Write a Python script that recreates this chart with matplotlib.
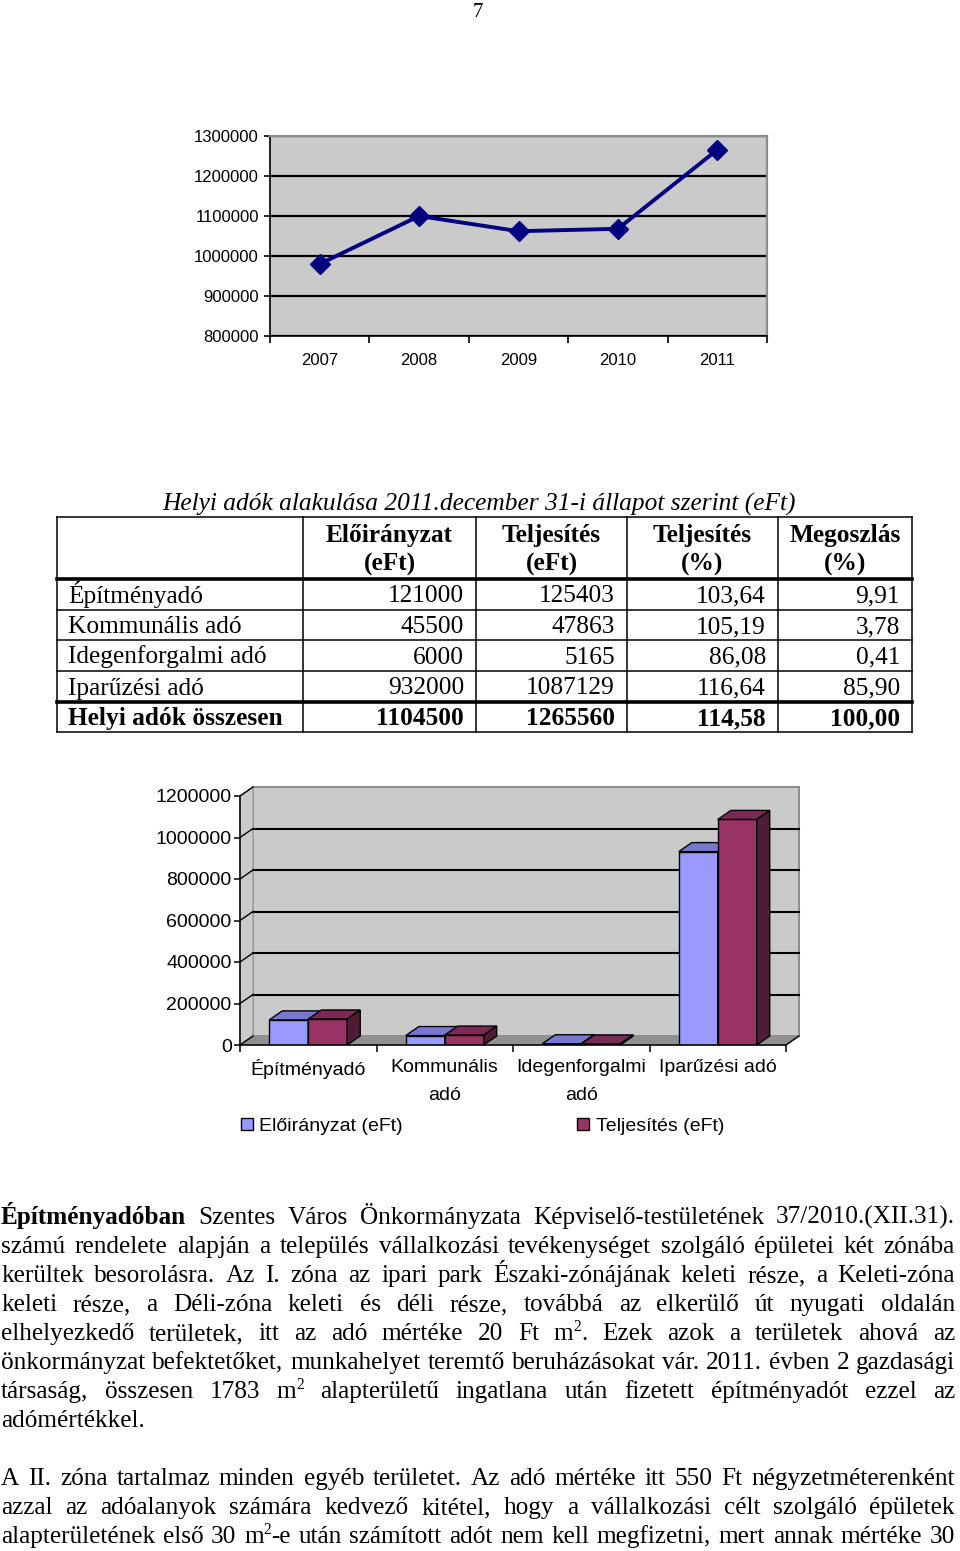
import re
import matplotlib
matplotlib.use('Agg')
import matplotlib.pyplot as plt
from matplotlib.patches import Polygon

# ---------------- data ----------------
years = ['2007', '2008', '2009', '2010', '2011']
line_values = [980000, 1100000, 1062000, 1068000, 1265560]
line_yticks = [800000, 900000, 1000000, 1100000, 1200000, 1300000]

table_title = 'Helyi adók alakulása 2011.december 31-i állapot szerint (eFt)'
table_headers = [('Előirányzat', '(eFt)'), ('Teljesítés', '(eFt)'),
                 ('Teljesítés', '(%)'), ('Megoszlás', '(%)')]
tax_names = ['Építményadó', 'Kommunális adó', 'Idegenforgalmi adó', 'Iparűzési adó']
eloiranyzat = [121000, 45500, 6000, 932000]
teljesites = [125403, 47863, 5165, 1087129]
telj_pct = ['103,64', '105,19', '86,08', '116,64']
megoszlas = ['9,91', '3,78', '0,41', '85,90']
total_label = 'Helyi adók összesen'
total_row = ['1104500', '1265560', '114,58', '100,00']

bar_categories = ['Építményadó', 'Kommunális\nadó', 'Idegenforgalmi\nadó', 'Iparűzési adó']
bar_yticks = [0, 200000, 400000, 600000, 800000, 1000000, 1200000]
legend_labels = ['Előirányzat (eFt)', 'Teljesítés (eFt)']

para1 = [
    '**Építményadóban** Szentes Város Önkormányzata Képviselő-testületének 37/2010.(XII.31).',
    'számú rendelete alapján a település vállalkozási tevékenységet szolgáló épületei két zónába',
    'kerültek besorolásra. Az I. zóna az ipari park Északi-zónájának keleti része, a Keleti-zóna',
    'keleti része, a Déli-zóna keleti és déli része, továbbá az elkerülő út nyugati oldalán',
    'elhelyezkedő területek, itt az adó mértéke 20 Ft m^2. Ezek azok a területek ahová az',
    'önkormányzat befektetőket, munkahelyet teremtő beruházásokat vár. 2011. évben 2 gazdasági',
    'társaság, összesen 1783 m^2 alapterületű ingatlana után fizetett építményadót ezzel az',
    'adómértékkel.',
]
para2 = [
    'A II. zóna tartalmaz minden egyéb területet. Az adó mértéke itt 550 Ft négyzetméterenként',
    'azzal az adóalanyok számára kedvező kitétel, hogy a vállalkozási célt szolgáló épületek',
    'alapterületének első 30 m^2-e után számított adót nem kell megfizetni, mert annak mértéke 30',
]

# ---------------- figure ----------------
W, H = 960, 1551
plt.rcParams['font.family'] = ['Liberation Sans', 'DejaVu Sans']
SERIF = ['Liberation Serif', 'DejaVu Serif']

fig = plt.figure(figsize=(W / 100, H / 100), dpi=100)
fig.patch.set_facecolor('white')

pg = fig.add_axes([0, 0, 1, 1])
pg.set_xlim(0, W)
pg.set_ylim(H, 0)
pg.axis('off')

# page number
pg.text(478, 17, '7', family=SERIF, fontsize=15, ha='center', va='baseline')

# ---------------- line chart ----------------
ax1 = fig.add_axes([270 / W, 1 - 336 / H, 497 / W, 200 / H])
ax1.set_facecolor('#CACACA')
ax1.set_xlim(-0.5, len(years) - 0.5)
ax1.set_ylim(line_yticks[0], line_yticks[-1])
ax1.set_yticks(line_yticks)
ax1.set_yticklabels([str(v) for v in line_yticks])
ax1.set_xticks(range(len(years)))
ax1.set_xticklabels(years)
ax1.set_xticks([i - 0.5 for i in range(len(years) + 1)], minor=True)
ax1.tick_params(axis='x', which='major', length=0, pad=12, labelsize=12)
ax1.tick_params(axis='x', which='minor', length=5, width=1.2, direction='out')
ax1.tick_params(axis='y', length=4, width=1.2, direction='out', labelsize=12, pad=4)
ax1.yaxis.grid(True, color='black', lw=1.6)
ax1.set_axisbelow(True)
for s in ['top', 'right']:
    ax1.spines[s].set_color('#8C8C8C')
    ax1.spines[s].set_linewidth(1.6)
for s in ['left', 'bottom']:
    ax1.spines[s].set_color('black')
    ax1.spines[s].set_linewidth(1.2)
ax1.plot(range(len(years)), line_values, color='#000080', lw=2.8, marker='D',
         ms=10, clip_on=False, zorder=3)

# ---------------- table ----------------
FS_T = 18.3
col_edges = [57, 303, 476, 627, 778, 912]
row_edges = [517, 579, 610, 640, 671, 702, 732]
thick = {579, 702}
for y in row_edges:
    pg.plot([col_edges[0], col_edges[-1]], [y, y], color='black',
            lw=2.6 if y in thick else 1.1, solid_capstyle='projecting')
for x in col_edges:
    pg.plot([x, x], [row_edges[0], row_edges[-1]], color='black', lw=1.1,
            solid_capstyle='projecting')

pg.text(479, 511, table_title, family=SERIF, fontsize=FS_T, style='italic',
        ha='center', va='baseline')
for j, (a, b) in enumerate(table_headers):
    cx = (col_edges[j + 1] + col_edges[j + 2]) / 2
    pg.text(cx, 542, a, family=SERIF, fontsize=FS_T, weight='bold', ha='center', va='baseline')
    pg.text(cx, 571, b, family=SERIF, fontsize=FS_T, weight='bold', ha='center', va='baseline')

for i, name in enumerate(tax_names):
    yb = (row_edges[i + 1] + row_edges[i + 2]) / 2 + 8
    pg.text(68, yb, name, family=SERIF, fontsize=FS_T, ha='left', va='baseline')
    vals = [str(eloiranyzat[i]), str(teljesites[i]), telj_pct[i], megoszlas[i]]
    for j, v in enumerate(vals):
        pg.text(col_edges[j + 2] - 12, yb, v, family=SERIF, fontsize=FS_T,
                ha='right', va='baseline')
yb = (row_edges[-2] + row_edges[-1]) / 2 + 8
pg.text(68, yb, total_label, family=SERIF, fontsize=FS_T, weight='bold', ha='left', va='baseline')
for j, v in enumerate(total_row):
    pg.text(col_edges[j + 2] - 12, yb, v, family=SERIF, fontsize=FS_T, weight='bold',
            ha='right', va='baseline')

# ---------------- 3D bar chart ----------------
ax2 = fig.add_axes([240 / W, 1 - 1045 / H, 546 / W, 249 / H])
n = len(bar_categories)
x0, x1 = -0.5, n - 0.5
ymax = bar_yticks[-1]
ax2.set_xlim(x0, x1)
ax2.set_ylim(0, ymax)
ax2.patch.set_visible(False)
for s in ['top', 'right']:
    ax2.spines[s].set_visible(False)
for s in ['left', 'bottom']:
    ax2.spines[s].set_color('black')
    ax2.spines[s].set_linewidth(1.1)
    ax2.spines[s].set_zorder(6)

DXP, DYP = 13, 9
ddx = DXP * (x1 - x0) / 546
ddy = DYP * ymax / 249
wall_c = '#CACACA'
ax2.add_patch(Polygon([(x0 + ddx, ddy), (x1 + ddx, ddy), (x1 + ddx, ymax + ddy),
                       (x0 + ddx, ymax + ddy)], closed=True, fc=wall_c, ec='#8C8C8C',
                      lw=1.4, zorder=0.5, clip_on=False))
ax2.add_patch(Polygon([(x0, 0), (x0, ymax), (x0 + ddx, ymax + ddy), (x0 + ddx, ddy)],
                      closed=True, fc=wall_c, ec='#A0A0A0', lw=1.0, zorder=0.6, clip_on=False))
ax2.add_patch(Polygon([(x0, 0), (x1, 0), (x1 + ddx, ddy), (x0 + ddx, ddy)],
                      closed=True, fc='#909090', ec='#909090', lw=0.8, zorder=0.7, clip_on=False))
for v in bar_yticks[1:-1]:
    ax2.plot([x0 + ddx, x1 + ddx], [v + ddy, v + ddy], color='black', lw=1.5,
             clip_on=False, zorder=0.8)
for v in bar_yticks:
    ax2.plot([x0, x0 + ddx], [v, v + ddy], color='black', lw=1.0, clip_on=False, zorder=0.9)
ax2.plot([x1, x1 + ddx], [0, ddy], color='black', lw=1.0, clip_on=False, zorder=0.9)

bw = 0.285
off = 0.143
styles = [('#9999FF', '#7878D0', '#4D4D80'), ('#993366', '#7A2A55', '#4F1C36')]
containers = []
for k, (vals, sgn) in enumerate([(eloiranyzat, -1), (teljesites, 1)]):
    front, topc, sidec = styles[k]
    z = 3 + k
    bc = ax2.bar([i + sgn * off for i in range(n)], vals, bw, color=front,
                 edgecolor='black', lw=1.0, zorder=z, label=legend_labels[k])
    containers.append(bc)
    for r in bc:
        bx, w, h = r.get_x(), r.get_width(), r.get_height()
        ax2.add_patch(Polygon([(bx, h), (bx + w, h), (bx + w + ddx, h + ddy), (bx + ddx, h + ddy)],
                              closed=True, fc=topc, ec='black', lw=1.0, zorder=z + 0.5,
                              clip_on=False))
        ax2.add_patch(Polygon([(bx + w, 0), (bx + w + ddx, ddy), (bx + w + ddx, h + ddy), (bx + w, h)],
                              closed=True, fc=sidec, ec='black', lw=1.0, zorder=z + 0.5,
                              clip_on=False))

ax2.set_yticks(bar_yticks)
ax2.set_yticklabels([str(v) for v in bar_yticks])
ax2.set_xticks(range(n))
ax2.set_xticklabels(bar_categories, linespacing=1.85)
ax2.set_xticks([i - 0.5 for i in range(n + 1)], minor=True)
ax2.tick_params(axis='x', which='major', length=0, pad=10, labelsize=14)
ax2.tick_params(axis='x', which='minor', length=5, width=1.1, direction='out')
ax2.tick_params(axis='y', length=4, width=1.1, direction='out', labelsize=14, pad=2)

ax2.legend(handles=containers, labels=legend_labels, loc='upper left',
           bbox_to_anchor=(241 / W, 1 - 1118 / H), bbox_transform=fig.transFigure,
           ncol=2, frameon=False, fontsize=14, handlelength=0.6, handleheight=0.6,
           handletextpad=0.35, columnspacing=8.95, borderpad=0, borderaxespad=0)

# ---------------- justified paragraph text ----------------
FS_P = 18.2
renderer = fig.canvas.get_renderer()
LEFT, RIGHT = 1, 955


def segments(word):
    if word.startswith('**') and word.endswith('**'):
        return [(word[2:-2], 'bold')]
    segs = []
    for p in re.split(r'(\^\d)', word):
        if not p:
            continue
        if p.startswith('^'):
            segs.append((p[1:], 'sup'))
        else:
            segs.append((p, 'normal'))
    return segs


def make_text(s, kind, yb):
    kw = dict(family=SERIF, fontsize=FS_P, va='baseline', ha='left')
    y = yb
    if kind == 'bold':
        kw['weight'] = 'bold'
    if kind == 'sup':
        kw['fontsize'] = FS_P * 0.62
        y = yb - 9
    return pg.text(0, y, s, **kw)


sp = pg.text(0, 0, 'a a', family=SERIF, fontsize=FS_P)
sa = pg.text(0, 0, 'aa', family=SERIF, fontsize=FS_P)
space_w = sp.get_window_extent(renderer).width - sa.get_window_extent(renderer).width
sp.remove()
sa.remove()


def draw_line(line, yb, justify):
    words = []
    for wd in line.split(' '):
        texts = [make_text(s, kind, yb) for s, kind in segments(wd)]
        widths = [t.get_window_extent(renderer).width for t in texts]
        words.append((texts, widths))
    total = sum(sum(w) for _, w in words)
    gap = (RIGHT - LEFT - total) / (len(words) - 1) if (justify and len(words) > 1) else space_w
    gap = max(gap, 0.5 * space_w)
    x = LEFT
    for texts, widths in words:
        for t, w in zip(texts, widths):
            t.set_x(x)
            x += w
        x += gap


for i, line in enumerate(para1):
    draw_line(line, 1224 + 29 * i, justify=(i < len(para1) - 1))
for i, line in enumerate(para2):
    draw_line(line, 1485 + 29 * i, justify=True)

fig.savefig('out.png', dpi=100, facecolor='white')
